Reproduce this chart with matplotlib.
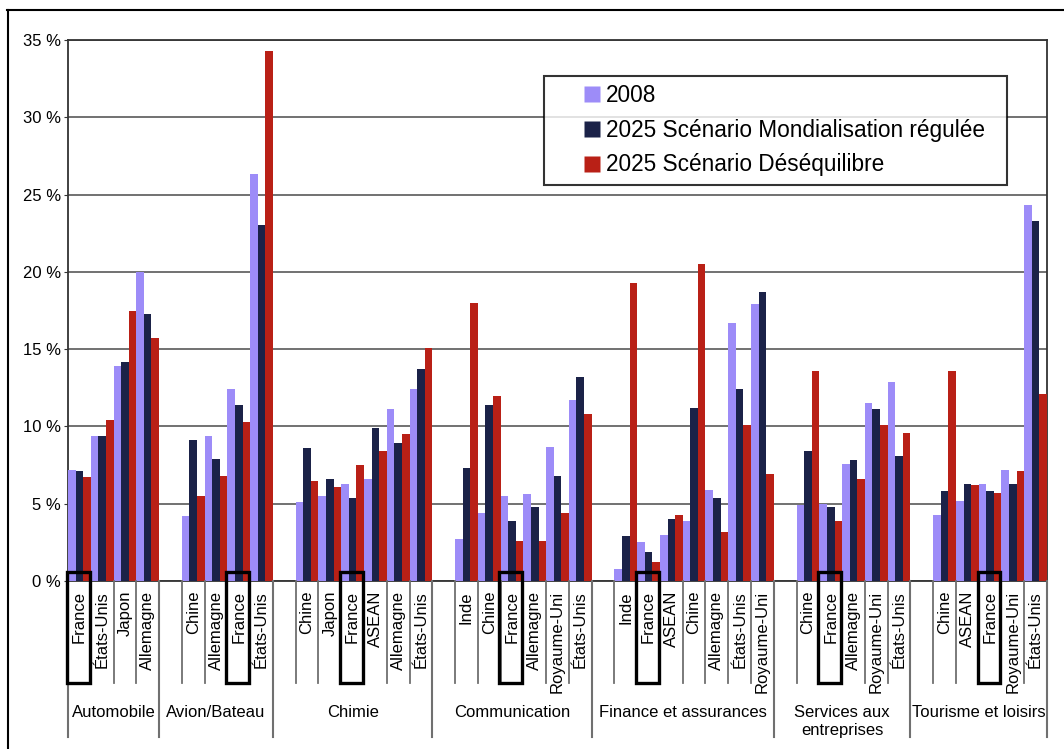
import numpy as np
import matplotlib.pyplot as plt
from matplotlib.lines import Line2D
from matplotlib.patches import Rectangle
from matplotlib.transforms import blended_transform_factory

plt.rcParams['font.family'] = ['Liberation Sans', 'DejaVu Sans']

# sectors and countries (each sector after the first starts with an empty slot)
groups = ["Automobile", "Avion/Bateau", "Chimie", "Communication",
          "Finance et assurances", "Services aux\nentreprises", "Tourisme et loisirs"]
countries = [
    ["France", "États-Unis", "Japon", "Allemagne"],
    ["Chine", "Allemagne", "France", "États-Unis"],
    ["Chine", "Japon", "France", "ASEAN", "Allemagne", "États-Unis"],
    ["Inde", "Chine", "France", "Allemagne", "Royaume-Uni", "États-Unis"],
    ["Inde", "France", "ASEAN", "Chine", "Allemagne", "États-Unis", "Royaume-Uni"],
    ["Chine", "France", "Allemagne", "Royaume-Uni", "États-Unis"],
    ["Chine", "ASEAN", "France", "Royaume-Uni", "États-Unis"],
]
v2008 = [
    [7.2, 9.4, 13.9, 20.0],
    [4.2, 9.4, 12.4, 26.3],
    [5.1, 5.5, 6.3, 6.6, 11.1, 12.4],
    [2.7, 4.4, 5.5, 5.6, 8.7, 11.7],
    [0.8, 2.5, 3.0, 3.9, 5.9, 16.7, 17.9],
    [4.9, 5.0, 7.6, 11.5, 12.9],
    [4.3, 5.2, 6.3, 7.2, 24.3],
]
v_regulee = [
    [7.1, 9.4, 14.2, 17.3],
    [9.1, 7.9, 11.4, 23.0],
    [8.6, 6.6, 5.4, 9.9, 8.9, 13.7],
    [7.3, 11.4, 3.9, 4.8, 6.8, 13.2],
    [2.9, 1.9, 4.0, 11.2, 5.4, 12.4, 18.7],
    [8.4, 4.8, 7.8, 11.1, 8.1],
    [5.8, 6.3, 5.8, 6.3, 23.3],
]
v_deseq = [
    [6.7, 10.4, 17.5, 15.7],
    [5.5, 6.8, 10.3, 34.3],
    [6.5, 6.1, 7.5, 8.4, 9.5, 15.1],
    [18.0, 12.0, 2.6, 2.6, 4.4, 10.8],
    [19.3, 1.2, 4.3, 20.5, 3.2, 10.1, 6.9],
    [13.6, 3.9, 6.6, 10.1, 9.6],
    [13.6, 6.2, 5.7, 7.1, 12.1],
]
series_names = ["2008", "2025 Scénario Mondialisation régulée", "2025 Scénario Déséquilibre"]
colors = ["#9d8cf8", "#1b2248", "#b92016"]

# slot layout
slot_x, slot_lab, group_bounds = [], [], [0]
pos = 0
for gi, cl in enumerate(countries):
    if gi > 0:
        pos += 1  # empty slot
    for c in cl:
        slot_x.append(pos)
        slot_lab.append(c)
        pos += 1
    group_bounds.append(pos)
n_slots = pos
slot_x = np.array(slot_x)

fig = plt.figure(figsize=(10.64, 7.49), dpi=100)
ax = fig.add_axes([68 / 1064, 1 - 581 / 749, 979 / 1064, 541 / 749])

w = 1 / 3
for k, vals in enumerate([v2008, v_regulee, v_deseq]):
    flat = [v for g in vals for v in g]
    ax.bar(slot_x + w / 2 + k * w, flat, width=w, color=colors[k],
           edgecolor='none', label=series_names[k], zorder=3)

ax.set_xlim(0, n_slots)
ax.set_ylim(0, 35)
ax.set_yticks(np.arange(0, 36, 5))
ax.set_yticklabels([f"{t} %" for t in range(0, 36, 5)], fontsize=12)
ax.set_xticks([])
ax.tick_params(axis='y', length=3, pad=2, color='#333333')
ax.yaxis.grid(True, color='#666666', linewidth=1.3, zorder=0)
ax.set_axisbelow(True)
for s in ax.spines.values():
    s.set_color('#333333')
    s.set_linewidth(1.3)

# category table below the axis
tr = blended_transform_factory(ax.transData, fig.transFigure)
y0 = 1 - 581 / 749
y_short = 1 - 683 / 749
y_long = 1 - 737 / 749
for xs, lab in zip(slot_x, slot_lab):
    ax.text(xs + 0.5, 1 - 591 / 749, lab, rotation=90, ha='center', va='top',
            fontsize=12, transform=tr)
    if lab == "France":
        fig.add_artist(Rectangle((xs - 0.05, 1 - 683 / 749), 1.0, (683 - 572) / 749,
                                 transform=tr, fill=False, edgecolor='black',
                                 linewidth=2.4, zorder=5))
for b in range(1, n_slots):
    if b not in group_bounds:
        fig.add_artist(Line2D([b, b], [y0, y_short], transform=tr, color='#707070', lw=1.3))
for b in group_bounds:
    fig.add_artist(Line2D([b, b], [y0, y_long], transform=tr, color='#707070', lw=1.5))
for gi, g in enumerate(groups):
    xc = (group_bounds[gi] + group_bounds[gi + 1]) / 2
    ax.text(xc, 1 - 705 / 749, g, ha='center', va='top', fontsize=12,
            linespacing=1.25, transform=tr)

# legend
handles = [Line2D([], [], marker='s', linestyle='none', markersize=11,
                  markerfacecolor=c, markeredgecolor='none') for c in colors]
leg = fig.legend(handles, series_names, loc='upper left',
                 bbox_to_anchor=(544 / 1064, 1 - 76 / 749 - 0.01, 463 / 1064, 0.01),
                 mode='expand', fontsize=16.3, frameon=True, fancybox=False,
                 borderpad=0.37, labelspacing=0.51, handlelength=3.52,
                 handletextpad=-1.14, borderaxespad=0)
leg.get_frame().set_edgecolor('black')
leg.get_frame().set_linewidth(1.5)

# outer frame (top and left edges visible)
fig.add_artist(Line2D([7 / 1064, 1], [1 - 10 / 749, 1 - 10 / 749],
                      transform=fig.transFigure, color='black', lw=1.5))
fig.add_artist(Line2D([8 / 1064, 8 / 1064], [0, 1 - 10 / 749],
                      transform=fig.transFigure, color='black', lw=1.5))

fig.savefig("out.png", dpi=100)
